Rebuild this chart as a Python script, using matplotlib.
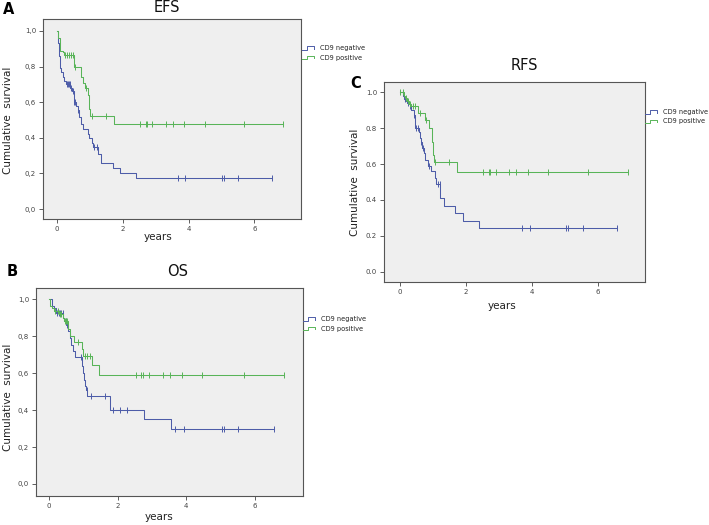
import numpy as np
import matplotlib
matplotlib.use("Agg")
import matplotlib.pyplot as plt
from matplotlib.lines import Line2D

# ---- data ----
efs_neg_t = [0, 0.03, 0.05, 0.08, 0.10, 0.13, 0.17, 0.22, 0.28, 0.40, 0.45, 0.50, 0.58,
             0.62, 0.67, 0.72, 0.80, 0.93, 0.98, 1.05, 1.10, 1.25, 1.32, 1.70, 1.90, 2.40]
efs_neg_s = [1.00, 0.93, 0.86, 0.82, 0.79, 0.77, 0.74, 0.72, 0.70, 0.68, 0.66, 0.60, 0.58,
             0.555, 0.515, 0.48, 0.45, 0.42, 0.40, 0.37, 0.35, 0.31, 0.26, 0.23, 0.205, 0.175]
efs_neg_cens = [0.29, 0.32, 0.35, 0.38, 0.42, 0.47, 0.52, 0.55, 0.62, 1.12, 1.20,
                3.69, 3.90, 5.03, 5.08, 5.50, 6.55]
efs_pos_t = [0, 0.03, 0.08, 0.18, 0.22, 0.52, 0.72, 0.80, 0.85, 0.93, 0.96, 0.98, 1.00, 1.74]
efs_pos_s = [1.00, 0.96, 0.89, 0.88, 0.865, 0.80, 0.74, 0.71, 0.68, 0.64, 0.60, 0.56, 0.52, 0.475]
efs_pos_cens = [0.25, 0.30, 0.35, 0.42, 0.48, 0.55, 0.88, 1.05, 1.48, 2.53, 2.70, 2.74,
                2.90, 3.31, 3.53, 3.87, 4.49, 5.68, 6.87]

os_neg_t = [0, 0.09, 0.15, 0.20, 0.42, 0.45, 0.50, 0.55, 0.60, 0.65, 0.70, 0.75, 0.97,
            1.00, 1.02, 1.05, 1.08, 1.12, 1.79, 2.76, 3.55]
os_neg_s = [1.00, 0.96, 0.95, 0.925, 0.90, 0.88, 0.86, 0.83, 0.79, 0.75, 0.72, 0.685, 0.64,
            0.60, 0.56, 0.53, 0.51, 0.475, 0.40, 0.35, 0.30]
os_neg_cens = [0.22, 0.28, 0.32, 0.36, 0.40, 0.48, 0.52, 0.92, 1.10, 1.22, 1.62, 1.86,
               2.06, 2.26, 3.68, 3.92, 5.05, 5.10, 5.50, 6.55]
os_pos_t = [0, 0.04, 0.10, 0.15, 0.30, 0.40, 0.45, 0.55, 0.60, 0.72, 0.97, 1.00, 1.26, 1.46]
os_pos_s = [1.00, 0.96, 0.95, 0.935, 0.92, 0.90, 0.88, 0.84, 0.80, 0.77, 0.73, 0.69, 0.645, 0.59]
os_pos_cens = [0.18, 0.25, 0.32, 0.36, 0.46, 0.50, 0.53, 0.85, 1.05, 1.12, 1.20, 2.52,
               2.69, 2.73, 2.91, 3.31, 3.52, 3.86, 4.47, 5.67, 6.86]

rfs_neg_t = [0, 0.08, 0.12, 0.17, 0.22, 0.30, 0.35, 0.42, 0.47, 0.58, 0.60, 0.63, 0.68,
             0.72, 0.77, 0.85, 0.95, 1.05, 1.10, 1.22, 1.35, 1.67, 1.90, 2.40]
rfs_neg_s = [1.00, 0.98, 0.96, 0.95, 0.94, 0.92, 0.90, 0.87, 0.80, 0.78, 0.745, 0.72, 0.69,
             0.66, 0.625, 0.59, 0.56, 0.52, 0.49, 0.41, 0.365, 0.325, 0.285, 0.245]
rfs_neg_cens = [0.15, 0.25, 0.32, 0.44, 0.50, 0.55, 0.65, 0.70, 0.88, 1.15, 1.20,
                3.70, 3.93, 5.04, 5.09, 5.53, 6.56]
rfs_pos_t = [0, 0.12, 0.17, 0.22, 0.28, 0.35, 0.55, 0.75, 0.88, 0.97, 0.99, 1.02, 1.72]
rfs_pos_s = [1.00, 0.98, 0.965, 0.95, 0.935, 0.92, 0.885, 0.845, 0.80, 0.72, 0.65, 0.61, 0.555]
rfs_pos_cens = [0.0, 0.10, 0.20, 0.25, 0.30, 0.40, 0.45, 0.60, 0.80, 1.05, 1.48, 2.51,
                2.69, 2.73, 2.90, 3.31, 3.53, 3.88, 4.49, 5.70, 6.91]

group_labels = ["CD9 negative", "CD9 positive"]
x_ticks = [0, 2, 4, 6]
y_ticks = [0.0, 0.2, 0.4, 0.6, 0.8, 1.0]
y_labels_comma = ["0,0", "0,2", "0,4", "0,6", "0,8", "1,0"]
y_labels_dot = ["0.0", "0.2", "0.4", "0.6", "0.8", "1.0"]

C_NEG = "#4d5ca8"
C_POS = "#58b458"
BG = "#efefef"
FRAME = "#555555"

W, H = 709, 525


def km(ax, t, s, cens, color):
    t = np.asarray(t)
    s = np.asarray(s)
    end = max(cens)
    ax.step(np.append(t, end), np.append(s, s[-1]), where="post",
            color=color, lw=0.75)
    idx = np.searchsorted(t, cens, side="right") - 1
    ax.plot(cens, s[idx], ls="none", marker="|", ms=4, mew=0.7, color=color)


def panel(rect, xlim, ylim, ylabels, neg, pos):
    ax = fig.add_axes(rect)
    ax.set_facecolor(BG)
    km(ax, *neg, C_NEG)
    km(ax, *pos, C_POS)
    ax.set_xlim(*xlim)
    ax.set_ylim(*ylim)
    ax.set_xticks(x_ticks)
    ax.set_yticks(y_ticks)
    ax.set_yticklabels(ylabels)
    ax.tick_params(labelsize=5, colors="#444444", length=3, width=0.6, pad=2)
    for sp in ax.spines.values():
        sp.set_color(FRAME)
        sp.set_linewidth(0.8)
    return ax


def px(x, y):
    # pixel position (from top-left) -> figure fraction
    return x / W, 1 - y / H


def legend(x, y):
    # small step glyphs like the SPSS legend, then the group names
    for i, (lab, col) in enumerate(zip(group_labels, [C_NEG, C_POS])):
        yy = y + i * 9.5
        xs = [x, x + 5, x + 5, x + 12, x + 12]
        ys = [yy + 1.5, yy + 1.5, yy - 2, yy - 2, yy + 0.5]
        fig.add_artist(Line2D([a / W for a in xs], [1 - b / H for b in ys],
                              transform=fig.transFigure, color=col, lw=0.7))
        fig.text(*px(x + 18, yy), lab, fontsize=4.8, color="#222222",
                 ha="left", va="center")


fig = plt.figure(figsize=(W / 100, H / 100), dpi=100)

# A: EFS
axA = panel([43 / W, 1 - 219 / H, 258 / W, 200 / H], (-0.43, 7.42), (-0.056, 1.067),
            y_labels_comma, (efs_neg_t, efs_neg_s, efs_neg_cens),
            (efs_pos_t, efs_pos_s, efs_pos_cens))
# B: OS
axB = panel([36 / W, 1 - 496 / H, 267 / W, 208 / H], (-0.38, 7.4), (-0.065, 1.06),
            y_labels_comma, (os_neg_t, os_neg_s, os_neg_cens),
            (os_pos_t, os_pos_s, os_pos_cens))
# C: RFS
axC = panel([384 / W, 1 - 282 / H, 261 / W, 200 / H], (-0.48, 7.42), (-0.056, 1.056),
            y_labels_dot, (rfs_neg_t, rfs_neg_s, rfs_neg_cens),
            (rfs_pos_t, rfs_pos_s, rfs_pos_cens))

# titles, panel letters, axis labels
for (x, y), txt in [((167, 8), "EFS"), ((178, 272), "OS"), ((524, 66), "RFS")]:
    fig.text(*px(x, y), txt, fontsize=10.5, ha="center", va="center", color="#111111")
for (x, y), txt in [((9, 9), "A"), ((12, 271), "B"), ((356, 84), "C")]:
    fig.text(*px(x, y), txt, fontsize=10.5, fontweight="bold", ha="center", va="center")
for (x, y) in [(8, 120), (8, 397), (355, 182)]:
    fig.text(*px(x, y), "Cumulative  survival", fontsize=7.5, rotation=90,
             ha="center", va="center", color="#222222")
for (x, y) in [(158, 237), (159, 517), (502, 306)]:
    fig.text(*px(x, y), "years", fontsize=7.5, ha="center", va="center", color="#222222")

legend(302, 48)
legend(303, 319)
legend(645, 112)

fig.savefig("out.png", dpi=100, facecolor="white")
